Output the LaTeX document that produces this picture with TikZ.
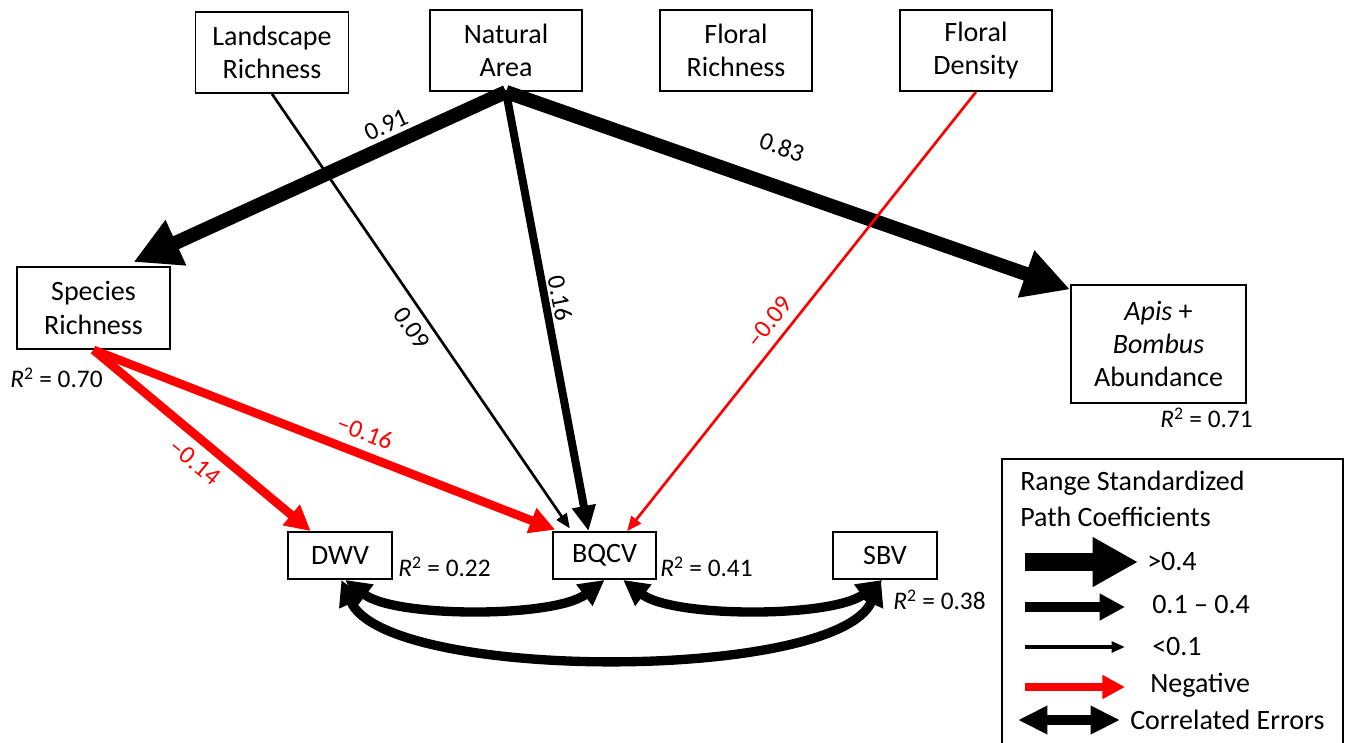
\documentclass[tikz,border=0pt]{standalone}
\usepackage{fontspec}
\setmainfont{Carlito}
\usetikzlibrary{arrows.meta}
\definecolor{negred}{RGB}{255,0,0}
\begin{document}
\begin{tikzpicture}[x=0.75pt,y=-0.75pt,
  box/.style={draw, line width=1.4pt, align=center, inner sep=0pt,
    font=\fontsize{21}{25}\selectfont},
  coef/.style={inner sep=0pt, font=\fontsize{19}{22}\selectfont},
  rsq/.style={inner sep=0pt, anchor=west, font=\fontsize{19}{22}\selectfont},
  legtext/.style={inner sep=0pt, anchor=west, font=\fontsize{21}{25}\selectfont},
  strongpath/.style={line width=10.5pt, -{Triangle[length=35pt,width=35pt]}},
  midpath/.style={line width=6pt, -{Triangle[length=19pt,width=17pt]}},
  weakpath/.style={line width=2pt, -{Triangle[length=11pt,width=9pt]}},
  negstrong/.style={negred, line width=6.5pt, -{Triangle[length=19pt,width=19pt]}},
  negweak/.style={negred, line width=2pt, -{Triangle[length=11pt,width=9pt]}},
  corr/.style={line width=7pt, {Triangle[length=19pt,width=19pt]}-{Triangle[length=19pt,width=19pt]}}
]
\useasboundingbox (0,0) rectangle (1348,742);

% exogenous variables
\node[box, minimum width=114.75pt, minimum height=60.75pt] (land) at (272,52.5) {Landscape\\Richness};
\node[box, minimum width=114pt, minimum height=60.75pt] (nat) at (506,50.5) {Natural\\Area};
\node[box, minimum width=114pt, minimum height=60.75pt] (flr) at (736,50.5) {Floral\\Richness};
\node[box, minimum width=114pt, minimum height=60.75pt] (fld) at (976,50.5) {Floral\\Density};

% response variables
\node[box, minimum width=114.75pt, minimum height=61.5pt] (spr) at (93.5,308) {Species\\Richness};
\node[box, minimum width=131.25pt, minimum height=88.5pt] (apis) at (1158.5,344) {\textit{Apis} +\\\textit{Bombus}\\Abundance};
\node[box, minimum width=78pt, minimum height=35.25pt] (dwv) at (340,555.5) {DWV};
\node[box, minimum width=77.25pt, minimum height=35.25pt] (bqcv) at (604.5,555.5) {BQCV};
\node[box, minimum width=78pt, minimum height=35.25pt] (sbv) at (885,555.5) {SBV};

% directed paths
\draw[strongpath] (nat.south) -- ([xshift=30pt,yshift=3pt]spr.north);
\draw[strongpath] (nat.south) -- ([yshift=-4pt]apis.north west);
\draw[weakpath] (land.south) -- ([xshift=-26pt,yshift=2pt]bqcv.north);
\draw[midpath] (nat.south) -- ([xshift=-12pt]bqcv.north);
\draw[negweak] (fld.south) -- ([xshift=17pt]bqcv.north);
\draw[negstrong] (spr.south) -- ([xshift=-22pt]dwv.north);
\draw[negstrong] (spr.south) -- ([xshift=-37pt,yshift=1pt]bqcv.north);

% correlated errors
\draw[corr] ([xshift=4pt]dwv.south) .. controls +(50,38) and +(-50,38) .. (bqcv.south);
\draw[corr] ([xshift=14pt]bqcv.south) .. controls +(50,38) and +(-50,38) .. ([xshift=-2pt]sbv.south);
\draw[corr] ([xshift=1pt]dwv.south) .. controls +(45,102) and +(-45,102) .. ([xshift=-3pt]sbv.south);

% path coefficients
\node[coef, rotate=25] (c1) at (386,125) {0.91};
\node[coef, rotate=-19.3] (c2) at (782,147) {0.83};
\node[coef, rotate=-55.6] (c3) at (412,328) {0.09};
\node[coef, rotate=-79] (c4) at (560,298) {0.16};
\node[coef, negred, rotate=51.5] (c5) at (769,322) {–0.09};
\node[coef, negred, rotate=-21.3] (c6) at (365,432) {–0.16};
\node[coef, negred, rotate=-39.5] (c7) at (195,462) {–0.14};

% explained variance
\node[rsq] (r1) at (10,378) {\textit{R}\textsuperscript{2} = 0.70};
\node[rsq] (r2) at (1160,418) {\textit{R}\textsuperscript{2} = 0.71};
\node[rsq] (r3) at (398,567) {\textit{R}\textsuperscript{2} = 0.22};
\node[rsq] (r4) at (660,567) {\textit{R}\textsuperscript{2} = 0.41};
\node[rsq] (r5) at (893,600) {\textit{R}\textsuperscript{2} = 0.38};

% legend
\draw[line width=1.4pt] (1002,459) rectangle (1343,770);
\node[legtext] (lg1) at (1020,483) {Range Standardized};
\node[legtext] (lg2) at (1020,517) {Path Coefficients};
\coordinate (k1a) at (1025,562); \coordinate (k1b) at (1138,562);
\coordinate (k2a) at (1025,607); \coordinate (k2b) at (1125,607);
\coordinate (k3a) at (1025,647); \coordinate (k3b) at (1125,647);
\coordinate (k4a) at (1025,687); \coordinate (k4b) at (1125,687);
\coordinate (k5a) at (1018,720); \coordinate (k5b) at (1120,720);
\draw[line width=13.5pt, -{Triangle[length=34pt,width=35pt]}] (k1a) -- (k1b);
\draw[line width=7.5pt, -{Triangle[length=19pt,width=19pt]}] (k2a) -- (k2b);
\draw[line width=3pt, -{Triangle[length=10pt,width=8pt]}] (k3a) -- (k3b);
\draw[negred, line width=5.5pt, -{Triangle[length=17pt,width=17pt]}] (k4a) -- (k4b);
\draw[line width=7pt, {Triangle[length=22pt,width=20pt]}-{Triangle[length=22pt,width=20pt]}] (k5a) -- (k5b);
\node[legtext] (lk1) at (1147,562) {>0.4};
\node[legtext] (lk2) at (1152,605) {0.1 – 0.4};
\node[legtext] (lk3) at (1152,647) {<0.1};
\node[legtext] (lk4) at (1150,685) {Negative};
\node[legtext] (lk5) at (1130,720) {Correlated Errors};
\end{tikzpicture}
\end{document}
